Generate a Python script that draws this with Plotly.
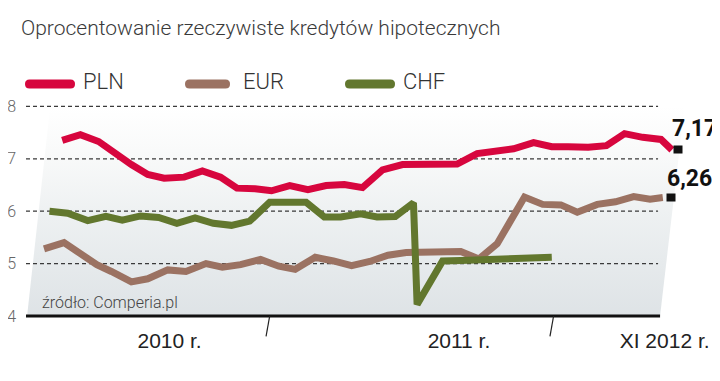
import plotly.graph_objects as go

# ---------------- data ----------------
# time position in months, counted from the first EUR observation
pln_t = [1.0, 2.0, 3.0, 4.0, 4.8, 5.7, 6.6, 7.7, 8.7, 9.7, 10.6, 11.6, 12.5, 13.5, 14.5,
         15.5, 16.5, 17.5, 18.6, 19.7, 20.8, 21.8, 22.7, 23.8, 24.8, 25.8, 26.9, 27.9,
         28.8, 29.9, 30.9, 31.9, 32.9, 33.9, 34.5]
pln = [7.35, 7.46, 7.33, 7.08, 6.89, 6.70, 6.63, 6.65, 6.77, 6.65, 6.44, 6.43, 6.39, 6.49,
       6.41, 6.49, 6.51, 6.45, 6.79, 6.89, 6.90, 6.88, 6.90, 7.10, 7.15, 7.19, 7.31, 7.23,
       7.23, 7.22, 7.25, 7.48, 7.41, 7.37, 7.17]

eur_t = [0.0, 1.1, 2.0, 2.9, 3.7, 4.8, 5.7, 6.8, 7.8, 8.9, 9.8, 10.8, 11.9, 12.9, 13.8,
         14.9, 15.9, 16.9, 17.9, 18.9, 19.9, 21.0, 22.0, 22.9, 23.9, 24.9, 26.4, 27.4,
         28.4, 29.3, 30.4, 31.4, 32.4, 33.3, 34.0]
eur = [5.28, 5.40, 5.19, 4.98, 4.85, 4.65, 4.71, 4.88, 4.85, 5.00, 4.93, 4.98, 5.08, 4.95,
       4.89, 5.12, 5.05, 4.96, 5.04, 5.16, 5.21, 5.21, 5.20, 5.23, 5.09, 5.38, 6.27, 6.13,
       6.12, 5.98, 6.13, 6.18, 6.28, 6.23, 6.26]

chf_t = [0.3, 1.3, 2.4, 3.4, 4.3, 5.3, 6.3, 7.3, 8.3, 9.3, 10.3, 11.3, 12.4, 13.4, 14.4,
         15.4, 16.3, 17.4, 18.3, 19.3, 20.3, 20.5, 21.9, 22.9, 24.0, 25.1, 26.2, 27.9]
chf = [6.00, 5.96, 5.82, 5.90, 5.83, 5.91, 5.88, 5.77, 5.87, 5.77, 5.73, 5.81, 6.17, 6.17,
       6.17, 5.89, 5.89, 5.95, 5.89, 5.90, 6.16, 4.22, 5.05, 5.06, 5.07, 5.09, 5.11, 5.12]

series_names = ["PLN", "EUR", "CHF"]
y_ticks = [4, 5, 6, 7, 8]
grid_values = [5, 6, 7, 8]
x_tick_pos = [6.9, 22.8, 34.1]
x_tick_text = ["2010 r.", "2011 r.", "XI 2012 r."]
year_breaks = [12.3, 27.9]

title_text = "Oprocentowanie rzeczywiste kredytów hipotecznych"
source_text = "źródło: Comperia.pl"

# ---------------- styles ----------------
COL = {"PLN": "#d7063e", "EUR": "#9b7262", "CHF": "#62772e"}
LIGHT = "Roboto, Liberation Sans, Arial, sans-serif"
REG = "Liberation Sans, Arial, sans-serif"

# the page adds an 8px body margin, so the figure is laid out 8px smaller
OFF = 8
W, H = 720 - OFF, 381 - OFF
# plot area in window pixels: x 26..685, y 90..316
PL, PR, PT, PB = 26, 685, 90, 316
ML, MR, MT, MB = PL - OFF, W - (PR - OFF), PT - OFF, H - (PB - OFF)
X_RANGE = [-0.99, 35.22]
Y_RANGE = [4, 8.313]
plot_w = PR - PL
plot_h = PB - PT


def px_x(px):
    return (px - PL) / plot_w


def px_y(py):
    return (PB - py) / plot_h


fig = go.Figure()

# background gradient panel (slanted edges)
fig.add_trace(go.Scatter(
    x=[-0.93, 0.44, 35.3, 33.85, -0.93], y=[4, 8.313, 8.313, 4, 4],
    mode="lines", line=dict(width=0), fill="toself",
    fillgradient=dict(type="vertical", start=4, stop=8,
                      colorscale=[[0, "#dee3e6"], [0.25, "#e6eaec"], [0.5, "#eef1f2"],
                                  [0.75, "#f8f9f9"], [1, "#ffffff"]]),
    hoverinfo="skip", showlegend=False))

# dashed grid lines
gx, gy = [], []
for v in grid_values:
    gx += [X_RANGE[0], 33.74, None]
    gy += [v, v, None]
fig.add_trace(go.Scatter(x=gx, y=gy, mode="lines",
                         line=dict(color="#3a3a3a", width=1.2, dash="4px,3px"),
                         hoverinfo="skip", showlegend=False))

data = {"PLN": (pln_t, pln), "EUR": (eur_t, eur), "CHF": (chf_t, chf)}
for name in ["EUR", "CHF", "PLN"]:
    t, v = data[name]
    fig.add_trace(go.Scatter(x=t, y=v, mode="lines", name=name,
                             line=dict(color=COL[name], width=7),
                             showlegend=False))

shapes = []
# baseline
shapes.append(dict(type="line", xref="x", yref="paper", x0=X_RANGE[0], x1=33.85,
                   y0=0, y1=0, line=dict(color="#111111", width=3)))
# year separators
for b in year_breaks:
    shapes.append(dict(type="line", xref="x", yref="paper", x0=b + 0.1, y0=0,
                       x1=b - 0.1, y1=-0.09, line=dict(color="#222222", width=1.2)))

annotations = []
# manual legend
legend_pos = {"PLN": (25, 75, 81), "EUR": (185, 230, 241), "CHF": (345, 395, 401)}
ly = 84
r = 4.5
for name in series_names:
    x0, x1, tx = legend_pos[name]
    rx = r / plot_w
    ry = r / plot_h
    a, bb = px_x(x0), px_x(x1)
    yc = px_y(ly)
    path = (f"M {a + rx},{yc + ry} L {bb - rx},{yc + ry} Q {bb},{yc + ry} {bb},{yc} "
            f"Q {bb},{yc - ry} {bb - rx},{yc - ry} L {a + rx},{yc - ry} "
            f"Q {a},{yc - ry} {a},{yc} Q {a},{yc + ry} {a + rx},{yc + ry} Z")
    shapes.append(dict(type="path", xref="paper", yref="paper", path=path,
                       fillcolor=COL[name], line=dict(width=0)))
    annotations.append(dict(xref="paper", yref="paper", x=px_x(tx), y=px_y(82),
                            xanchor="left", yanchor="middle", showarrow=False,
                            text=name,
                            font=dict(family=LIGHT, size=22, color="#333333", weight=300)))

# source
annotations.append(dict(xref="paper", yref="paper", x=px_x(40), y=px_y(302),
                        xanchor="left", yanchor="middle", showarrow=False,
                        text=source_text,
                        font=dict(family=LIGHT, size=16, color="#444444", weight=300)))

# end values with markers
end_cfg = {"PLN": (-2, 21, 6), "EUR": (2, 19, 8)}
for name, (lx, ly_, mx) in end_cfg.items():
    t, v = data[name]
    label = f"{v[-1]:.2f}".replace(".", ",")
    annotations.append(dict(xref="x", yref="y", x=t[-1], y=v[-1], xanchor="left",
                            yanchor="middle", xshift=lx, yshift=ly_, showarrow=False,
                            text=label,
                            font=dict(family=LIGHT, size=23, color="#111111", weight=700)))
    annotations.append(dict(xref="x", yref="y", x=t[-1], y=v[-1], xanchor="center",
                            yanchor="middle", xshift=mx, showarrow=False, text=" ",
                            font=dict(size=1), width=8, height=7, bgcolor="#111111",
                            borderpad=0))

fig.update_layout(
    width=W, height=H,
    margin=dict(l=ML, r=MR, t=MT, b=MB, autoexpand=False),
    paper_bgcolor="white", plot_bgcolor="rgba(0,0,0,0)",
    title=dict(text=title_text, x=(21 - OFF) / W, xanchor="left",
               y=1 - (28 - OFF) / H, yanchor="middle",
               xref="container", yref="container",
               font=dict(family=LIGHT, size=21, color="#3a3a3a", weight=300)),
    xaxis=dict(range=X_RANGE, showgrid=False, zeroline=False, showline=False,
               automargin=False,
               tickmode="array", tickvals=x_tick_pos, ticktext=x_tick_text, ticks="",
               ticklabelstandoff=10,
               tickfont=dict(family=REG, size=21, color="#222222")),
    yaxis=dict(range=Y_RANGE, showgrid=False, zeroline=False, showline=False,
               automargin=False,
               tickmode="array", tickvals=y_ticks, ticks="", ticklabelstandoff=9,
               tickfont=dict(family=LIGHT, size=16, color="#666666", weight=300)),
    shapes=shapes, annotations=annotations, showlegend=False,
)

fig.write_html("out.html")
